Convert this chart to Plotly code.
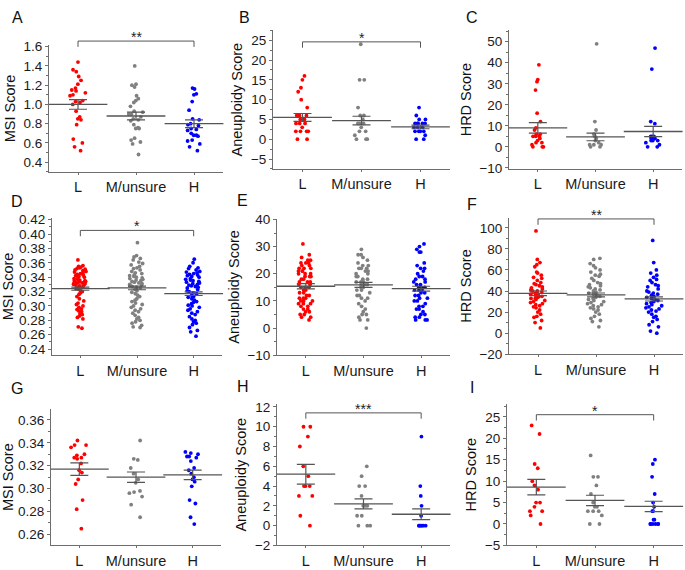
import plotly.graph_objects as go

CATS = ["L", "M/unsure", "H"]
COLORS = ["#ff0000", "#808080", "#0000ff"]

# ---------- Panel A (MSI) ----------
A_L = [1.44, 1.36, 1.34, 1.29, 1.25, 1.21, 1.17, 1.15, 1.14, 1.12, 1.10, 1.09, 1.04, 1.03,
       1.02, 1.00, 0.93, 0.87, 0.85, 0.84, 0.79, 0.64, 0.60, 0.56, 0.52]
A_M = [1.40, 1.21, 1.20, 1.18, 1.09, 1.06, 1.04, 1.02, 0.98, 0.93, 0.92, 0.90, 0.90, 0.87,
       0.85, 0.84, 0.83, 0.79, 0.76, 0.75, 0.75, 0.65, 0.63, 0.61, 0.59, 0.48]
A_H = [1.17, 1.16, 1.11, 1.10, 1.03, 0.94, 0.85, 0.84, 0.80, 0.79, 0.78, 0.75, 0.74, 0.73,
       0.70, 0.68, 0.68, 0.67, 0.63, 0.62, 0.59, 0.56, 0.52]
A_MEAN = [1.00, 0.88, 0.80]
A_SEM = [0.05, 0.04, 0.04]

# ---------- Panel B (Aneuploidy) ----------
B_L = [16, 15, 13, 12, 10, 8, 6, 6, 6, 5, 5, 4, 4, 4, 3, 2, 2, 2, 2, 0, 0]
B_M = [24, 15, 15, 8, 6, 6, 5, 4, 4, 4, 3, 2, 2, 1, 0, 0, 0]
B_H = [8, 6, 5, 5, 4, 4, 4, 4, 4, 3, 3, 3, 2, 2, 2, 2, 1, 0, 0]
B_MEAN = [5.5, 4.7, 3.1]
B_SEM = [1.0, 1.1, 0.45]

# ---------- Panel C (HRD) ----------
C_L = [39, 32, 31, 27, 16, 12, 9, 8, 6, 6, 5, 5, 5, 4, 3, 2, 2, 1, 0, 0, 0]
C_M = [49, 12, 8, 6, 5, 4, 3, 2, 1, 1, 1, 0, 0]
C_H = [47, 37, 12, 11, 5, 5, 5, 4, 4, 3, 3, 3, 2, 1, 0, 0]
C_MEAN = [9.0, 4.7, 7.3]
C_SEM = [2.5, 1.8, 2.4]

# ---------- Panel D (MSI) ----------
D_L = [0.364, 0.356, 0.355, 0.354, 0.353, 0.352, 0.351, 0.350, 0.349, 0.348, 0.347, 0.346,
       0.345, 0.344, 0.343, 0.342, 0.341, 0.340, 0.339, 0.338, 0.337, 0.336, 0.335, 0.335,
       0.334, 0.334, 0.333, 0.333, 0.332, 0.332, 0.331, 0.331, 0.330, 0.330, 0.329, 0.328,
       0.327, 0.326, 0.325, 0.324, 0.323, 0.321, 0.320, 0.318, 0.316, 0.313, 0.310, 0.307,
       0.304, 0.302, 0.300, 0.298, 0.296, 0.295, 0.293, 0.292, 0.290, 0.288, 0.286, 0.284,
       0.282, 0.271, 0.269]
D_M = [0.388, 0.370, 0.368, 0.366, 0.364, 0.361, 0.359, 0.357, 0.355, 0.353, 0.352, 0.350,
       0.348, 0.346, 0.345, 0.343, 0.342, 0.341, 0.340, 0.339, 0.338, 0.337, 0.336, 0.335,
       0.334, 0.333, 0.332, 0.331, 0.330, 0.329, 0.328, 0.327, 0.326, 0.325, 0.323, 0.321,
       0.319, 0.317, 0.315, 0.313, 0.310, 0.308, 0.306, 0.304, 0.302, 0.300, 0.298, 0.296,
       0.294, 0.292, 0.290, 0.287, 0.284, 0.282, 0.280, 0.278, 0.276, 0.273, 0.271, 0.270]
D_H = [0.365, 0.360, 0.355, 0.353, 0.352, 0.350, 0.348, 0.347, 0.346, 0.345, 0.344, 0.343,
       0.342, 0.341, 0.340, 0.338, 0.337, 0.336, 0.335, 0.334, 0.333, 0.332, 0.331, 0.330,
       0.329, 0.328, 0.327, 0.326, 0.325, 0.323, 0.321, 0.320, 0.318, 0.317, 0.315, 0.313,
       0.312, 0.310, 0.308, 0.306, 0.305, 0.303, 0.301, 0.300, 0.298, 0.296, 0.294, 0.292,
       0.290, 0.288, 0.285, 0.282, 0.280, 0.278, 0.276, 0.274, 0.270, 0.266, 0.264, 0.258]
D_MEAN = [0.324, 0.325, 0.317]
D_SEM = [0.0022, 0.0025, 0.0025]

# ---------- Panel E (Aneuploidy) ----------
E_L = [31, 27, 26, 25, 25, 24, 24, 24, 23, 23, 22, 22, 22, 21, 21, 21, 20, 20, 20, 19, 19, 19,
       18, 18, 17, 17, 17, 16, 16, 15, 15, 15, 14, 14, 13, 13, 12, 12, 11, 11, 11, 10, 10, 10,
       9, 9, 9, 8, 8, 7, 7, 6, 6, 5, 5, 4, 4, 3]
E_M = [29, 27, 27, 26, 25, 24, 23, 23, 22, 22, 22, 21, 21, 20, 20, 19, 19, 18, 18, 17, 17, 17,
       16, 16, 16, 15, 15, 14, 14, 13, 12, 12, 11, 11, 10, 9, 8, 7, 6, 5, 5, 4, 3, 3, 0]
E_H = [31, 30, 29, 28, 28, 24, 23, 22, 22, 21, 20, 19, 19, 18, 18, 17, 17, 16, 16, 15, 15, 15,
       14, 14, 14, 13, 13, 12, 12, 11, 11, 10, 10, 9, 8, 8, 7, 7, 6, 5, 5, 4, 4, 3, 3, 3]
E_MEAN = [15.4, 15.9, 14.5]
E_SEM = [1.0, 0.9, 0.9]

# ---------- Panel F (HRD) ----------
F_L = [97, 70, 67, 65, 63, 58, 57, 55, 53, 52, 50, 48, 47, 46, 45, 44, 43, 42, 41, 40, 40, 39,
       38, 37, 37, 36, 35, 35, 34, 33, 33, 32, 31, 30, 29, 28, 27, 26, 25, 24, 22, 20, 18, 16,
       15, 12, 10, 5]
F_M = [71, 70, 66, 64, 62, 60, 58, 56, 55, 54, 52, 50, 48, 47, 46, 45, 44, 43, 42, 41, 40, 39,
       38, 37, 36, 35, 34, 33, 32, 31, 30, 29, 28, 27, 26, 25, 24, 23, 22, 20, 18, 16, 14, 12,
       11, 6]
F_H = [88, 67, 60, 57, 55, 53, 51, 50, 48, 46, 45, 44, 42, 40, 39, 38, 37, 36, 35, 34, 33, 32,
       31, 30, 29, 28, 27, 26, 25, 24, 23, 22, 21, 20, 18, 16, 15, 13, 11, 8, 6, 2, 0]
F_MEAN = [37.8, 36.3, 32.5]
F_SEM = [2.2, 1.8, 2.0]

# ---------- Panel G (MSI) ----------
G_L = [0.342, 0.338, 0.338, 0.336, 0.330, 0.329, 0.327, 0.327, 0.326, 0.322, 0.316, 0.314,
       0.308, 0.304, 0.290, 0.282, 0.265]
G_M = [0.342, 0.326, 0.325, 0.318, 0.313, 0.308, 0.305, 0.298, 0.297, 0.296, 0.293, 0.286, 0.275]
G_H = [0.332, 0.331, 0.330, 0.328, 0.328, 0.327, 0.324, 0.318, 0.316, 0.313, 0.310, 0.308,
       0.306, 0.302, 0.290, 0.287, 0.275, 0.269]
G_MEAN = [0.317, 0.310, 0.312]
G_SEM = [0.0055, 0.0045, 0.0042]

# ---------- Panel H (Aneuploidy) ----------
H_L = [10, 10, 9, 8, 6, 5, 4, 4, 4, 3, 3, 1, 0]
H_M = [6, 5, 4, 4, 3, 2, 2, 2, 1, 1, 0, 0, 0]
H_H = [9, 4, 3, 2, 1, 0, 0, 0, 0, 0, 0]
H_MEAN = [5.2, 2.2, 1.15]
H_SEM = [1.0, 0.5, 0.55]

# ---------- Panel I (HRD) ----------
I_L = [23, 21, 14, 13, 10, 9, 8, 5, 5, 4, 3, 3, 2, 0]
I_M = [16, 11, 11, 9, 7, 5, 4, 4, 3, 3, 3, 2, 0, 0]
I_H = [15, 14, 11, 7, 5, 4, 3, 3, 1, 1, 0, 0, 0, 0, 0, 0]
I_MEAN = [8.6, 5.5, 4.1]
I_SEM = [1.8, 1.2, 1.2]

# panel configuration: letter, groups, mean, sem, y-title, range, dtick, format,
# pixel box (x0, x1, ytop, ybottom), significance bracket (value, label)
PANELS = [
    dict(letter="A", groups=[A_L, A_M, A_H], mean=A_MEAN, sem=A_SEM, title="MSI Score",
         rng=[0.3, 1.617], dtick=0.2, fmt=".1f", box=(49, 223, 40, 170), br=(1.658, "**"),
         lpos=(17, 12)),
    dict(letter="B", groups=[B_L, B_M, B_H], mean=B_MEAN, sem=B_SEM, title="Aneuploidy Score",
         rng=[-7.5, 27.5], dtick=5, fmt="d", box=(273, 450, 25, 167), br=(24.6, "*"),
         lpos=(244, 12)),
    dict(letter="C", groups=[C_L, C_M, C_H], mean=C_MEAN, sem=C_SEM, title="HRD Score",
         rng=[-10.5, 55.4], dtick=10, fmt="d", box=(509, 682, 25, 167), br=None,
         lpos=(472, 12)),
    dict(letter="D", groups=[D_L, D_M, D_H], mean=D_MEAN, sem=D_SEM, title="MSI Score",
         rng=[0.2315, 0.4227], dtick=0.02, fmt=".2f", box=(52, 222, 217, 358),
         br=(0.405, "*"), lpos=(17, 200)),
    dict(letter="E", groups=[E_L, E_M, E_H], mean=E_MEAN, sem=E_SEM, title="Aneuploidy Score",
         rng=[-10, 40.3], dtick=10, fmt="d", box=(277, 450, 218, 358), br=None,
         lpos=(242, 199)),
    dict(letter="F", groups=[F_L, F_M, F_H], mean=F_MEAN, sem=F_SEM, title="HRD Score",
         rng=[-20, 109.6], dtick=20, fmt="d", box=(509, 683, 217, 357), br=(108.4, "**"),
         lpos=(472, 203)),
    dict(letter="G", groups=[G_L, G_M, G_H], mean=G_MEAN, sem=G_SEM, title="MSI Score",
         rng=[0.2504, 0.3696], dtick=0.02, fmt=".2f", box=(51, 221, 413, 553), br=None,
         lpos=(17, 392)),
    dict(letter="H", groups=[H_L, H_M, H_H], mean=H_MEAN, sem=H_SEM, title="Aneuploidy Score",
         rng=[-2, 12.3], dtick=2, fmt="d", box=(277, 450, 408, 553), br=(11.4, "***"),
         lpos=(243, 390)),
    dict(letter="I", groups=[I_L, I_M, I_H], mean=I_MEAN, sem=I_SEM, title="HRD Score",
         rng=[-5, 28], dtick=5, fmt="d", box=(507, 683, 408, 553), br=(25.5, "*"),
         lpos=(472, 391)),
]

W, H = 685, 570
FONT = "Liberation Sans, Arial, Helvetica, sans-serif"
AXC = "#6e6e6e"

fig = go.Figure()
layout = {}
shapes = []
annotations = []

for i, p in enumerate(PANELS):
    s = "" if i == 0 else str(i + 1)
    xa, ya = "x" + s, "y" + s
    x0, x1, yt, yb = p["box"]
    for k, (grp, col) in enumerate(zip(p["groups"], COLORS)):
        fig.add_trace(go.Box(
            x=[CATS[k]] * len(grp), y=grp, boxpoints="all", jitter=0.5, pointpos=0,
            width=0.6, fillcolor="rgba(0,0,0,0)",
            line=dict(color="rgba(0,0,0,0)", width=0),
            marker=dict(color=col, size=3.8, line=dict(width=0)),
            hoveron="points", showlegend=False, xaxis=xa, yaxis=ya))
    fig.add_trace(go.Scatter(
        x=CATS, y=p["mean"], mode="markers", showlegend=False, cliponaxis=False,
        marker=dict(symbol="line-ew", size=42, color="#555555",
                    line=dict(width=1.3, color="#555555")),
        error_y=dict(type="data", array=p["sem"], width=9, thickness=1.2, color="#555555"),
        xaxis=xa, yaxis=ya))

    layout["xaxis" + s] = dict(
        domain=[x0 / W, x1 / W], anchor=ya, type="category", categoryorder="array",
        categoryarray=CATS, range=[-0.5, 2.5], showline=True, linecolor=AXC, linewidth=1,
        ticks="outside", ticklen=2, tickcolor=AXC, showgrid=False, zeroline=False,
        ticklabelstandoff=0,
        tickfont=dict(family=FONT, size=14.5, color="#1a1a1a"), fixedrange=True)
    layout["yaxis" + s] = dict(
        domain=[1 - yb / H, 1 - yt / H], anchor=xa, range=p["rng"], dtick=p["dtick"],
        tick0=0, tickformat=p["fmt"], showline=True, linecolor=AXC, linewidth=1,
        ticks="outside", ticklen=3, tickcolor=AXC, showgrid=False, zeroline=False,
        minor=dict(ticks="outside", ticklen=2, dtick=p["dtick"] / 2, tickcolor=AXC),
        tickfont=dict(family=FONT, size=13.5, color="#1a1a1a"),
        title=dict(text=p["title"], font=dict(family=FONT, size=14.5, color="#111"), standoff=4),
        fixedrange=True)

    annotations.append(dict(text=p["letter"], x=p["lpos"][0] / W, y=1 - p["lpos"][1] / H,
                            xref="paper", yref="paper", showarrow=False,
                            font=dict(family=FONT, size=16, color="#111"),
                            xanchor="center", yanchor="middle"))
    if p["br"]:
        val, lab = p["br"]
        lo, hi = p["rng"]
        yd = (val - lo) / (hi - lo)
        drop = 6 / (yb - yt)
        xl, xr = 0.5 / 3, 2.5 / 3
        shapes.append(dict(type="path", xref=xa + " domain", yref=ya + " domain",
                           path=f"M {xl},{yd - drop} L {xl},{yd} L {xr},{yd} L {xr},{yd - drop}",
                           line=dict(color="#555555", width=1)))
        annotations.append(dict(text=lab, x=0.5, y=yd, xref=xa + " domain",
                                yref=ya + " domain", showarrow=False, yanchor="bottom",
                                yshift=-6, font=dict(family=FONT, size=14, color="#222")))

fig.update_layout(width=W, height=H, margin=dict(l=0, r=0, t=0, b=0),
                  paper_bgcolor="white", plot_bgcolor="white", showlegend=False,
                  shapes=shapes, annotations=annotations, **layout)

fig.write_html("out.html", config={"displayModeBar": False},
               post_script="document.body.style.margin='0';")
